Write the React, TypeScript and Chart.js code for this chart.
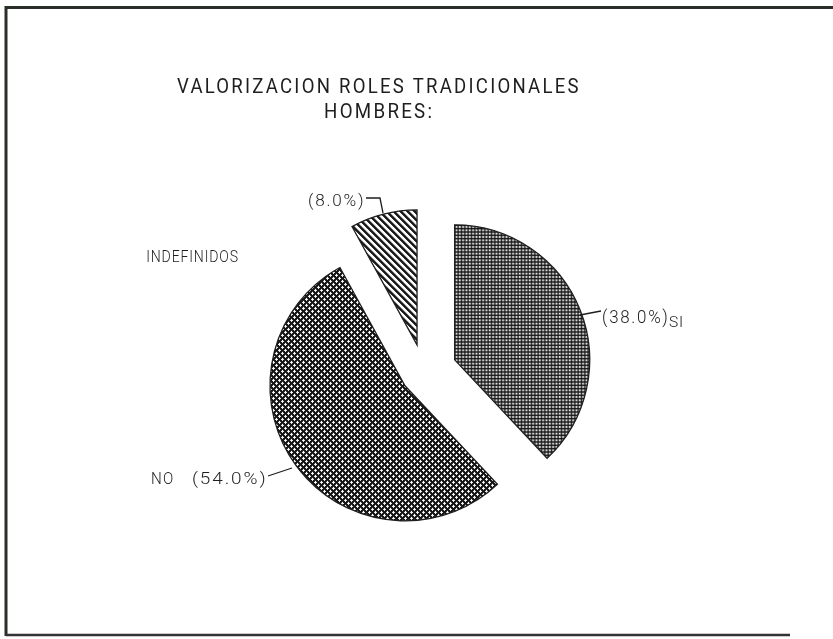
import React, { useEffect, useRef } from "react";
import { Chart, registerables } from "chart.js";

Chart.register(...registerables);

// ---- data ----
const categories = ["SI", "NO", "INDEFINIDOS"];
const values = [38.0, 54.0, 8.0];
const titleLines = ["VALORIZACION ROLES TRADICIONALES", "HOMBRES:"];

// ---- style ----
const INK = "#1e1e1e";
const EXPLODE = [33, 23.5, 28];
const FONT = '"Roboto", "Liberation Sans", "DejaVu Sans", sans-serif';

function makePattern(kind: string): CanvasPattern | string {
  const c = document.createElement("canvas");
  if (kind === "grid") {
    const size = 10;
    c.width = size;
    c.height = size;
    const g = c.getContext("2d")!;
    g.fillStyle = "#ffffff";
    g.fillRect(0, 0, size, size);
    g.fillStyle = "#141414";
    for (let k = 0; k < 3; k++) {
      const p = (k * size) / 3;
      g.fillRect(0, p, size, 1.45);
      g.fillRect(p, 0, 1.45, size);
    }
    return g.createPattern(c, "repeat") || "#888";
  }
  const size = kind === "dots" ? 6 : 7;
  c.width = size;
  c.height = size;
  const g = c.getContext("2d")!;
  const img = g.createImageData(size, size);
  for (let y = 0; y < size; y++) {
    for (let x = 0; x < size; x++) {
      let v = 255;
      if (kind === "dots") {
        const a = (x + y) % size;
        const b = (((x - y) % size) + size) % size;
        const white = a >= 3 && b >= 3;
        v = white ? 255 : 22;
      } else {
        const m = (((x - y) % size) + size) % size;
        v = m < 3 ? 25 : m === 3 ? 140 : 255;
      }
      const i = (y * size + x) * 4;
      img.data[i] = v;
      img.data[i + 1] = v;
      img.data[i + 2] = v;
      img.data[i + 3] = 255;
    }
  }
  g.putImageData(img, 0, 0);
  return g.createPattern(c, "repeat") || "#888";
}

function fitText(
  ctx: CanvasRenderingContext2D,
  text: string,
  x0: number,
  x1: number,
  capTop: number,
  capBottom: number,
  spacing = 0.1,
  weight = 300
) {
  const capH = capBottom - capTop;
  const size = capH / 0.711;
  ctx.font = `${weight} ${size}px ${FONT}`;
  ctx.textAlign = "left";
  ctx.textBaseline = "alphabetic";
  (ctx as any).letterSpacing = `${(size * spacing).toFixed(2)}px`;
  const m = ctx.measureText(text);
  const w = m.actualBoundingBoxRight + m.actualBoundingBoxLeft;
  const sx = (x1 - x0) / w;
  ctx.save();
  ctx.translate(x0, capBottom);
  ctx.scale(sx, 1);
  ctx.fillStyle = INK;
  ctx.fillText(text, m.actualBoundingBoxLeft, 0);
  ctx.restore();
  (ctx as any).letterSpacing = "0px";
}

function line(ctx: CanvasRenderingContext2D, pts: number[][]) {
  ctx.beginPath();
  ctx.moveTo(pts[0][0], pts[0][1]);
  for (let i = 1; i < pts.length; i++) ctx.lineTo(pts[i][0], pts[i][1]);
  ctx.stroke();
}

const pct = (v: number) => `(${v.toFixed(1)}%)`;

const framePlugin = {
  id: "frame",
  beforeDraw(chart: any) {
    const ctx: CanvasRenderingContext2D = chart.ctx;
    ctx.save();
    ctx.fillStyle = "#ffffff";
    ctx.fillRect(0, 0, chart.width, chart.height);
    ctx.strokeStyle = "#2a2f2a";
    ctx.lineWidth = 3;
    line(ctx, [[6, 636], [6, 7.5], [833, 7.5]]);
    ctx.lineWidth = 2.5;
    ctx.strokeStyle = "#333";
    line(ctx, [[6, 635], [790, 635]]);
    ctx.restore();
  },
};

const explodePlugin = {
  id: "explode",
  beforeDatasetsDraw(chart: any) {
    const ctx: CanvasRenderingContext2D = chart.ctx;
    const meta = chart.getDatasetMeta(0);
    meta.data.forEach((el: any, i: number) => {
      const a = (el.startAngle + el.endAngle) / 2;
      const d = EXPLODE[i] || 0;
      ctx.save();
      ctx.translate(Math.cos(a) * d, Math.sin(a) * d);
      el.draw(ctx);
      ctx.restore();
    });
    return false;
  },
};

const labelPlugin = {
  id: "labels",
  afterDraw(chart: any) {
    const ctx: CanvasRenderingContext2D = chart.ctx;
    ctx.save();
    // title
    fitText(ctx, titleLines[0], 177, 578, 78, 93, 0.12, 400);
    fitText(ctx, titleLines[1], 325, 431, 103, 118, 0.12, 400);
    // labels
    fitText(ctx, categories[2], 147, 238, 250, 262, 0.06);
    fitText(ctx, pct(values[2]), 309, 363, 194, 206, 0.1);
    fitText(ctx, pct(values[0]), 603, 667, 310, 323, 0.1);
    fitText(ctx, categories[0], 669, 682, 316, 327, 0.05);
    fitText(ctx, categories[1], 152, 173, 472, 484, 0.08);
    fitText(ctx, pct(values[1]), 193, 265, 472, 484, 0.1);
    // leaders
    ctx.strokeStyle = INK;
    ctx.lineWidth = 1.3;
    line(ctx, [[366, 198], [380, 198], [383, 213]]);
    line(ctx, [[580, 315], [601, 311]]);
    line(ctx, [[268, 476], [292, 468]]);
    ctx.restore();
  },
};

export default function App() {
  const ref = useRef<HTMLCanvasElement | null>(null);
  useEffect(() => {
    if (!ref.current) return;
    const bg = [makePattern("grid"), makePattern("dots"), makePattern("stripes")];
    const chart = new Chart(ref.current, {
      type: "pie",
      data: {
        labels: categories,
        datasets: [
          {
            data: values,
            backgroundColor: bg as any,
            borderColor: INK,
            borderWidth: 1.3,
            borderJoinStyle: "miter",
            offset: 0,
            radius: 135,
          } as any,
        ],
      },
      options: {
        responsive: false,
        animation: false,
        devicePixelRatio: 1,
        rotation: 0,
        layout: { padding: { left: 224, right: 209, top: 172, bottom: 67 } },
        plugins: {
          legend: { display: false },
          title: { display: false },
          tooltip: { enabled: false },
        },
        events: [],
      },
      plugins: [framePlugin, explodePlugin, labelPlugin],
    });
    return () => chart.destroy();
  }, []);
  return (
    <div style={{ position: "fixed", left: 0, top: 0, width: 833, height: 639, background: "#fff" }}>
      <canvas ref={ref} width={833} height={639} style={{ display: "block" }} />
    </div>
  );
}
